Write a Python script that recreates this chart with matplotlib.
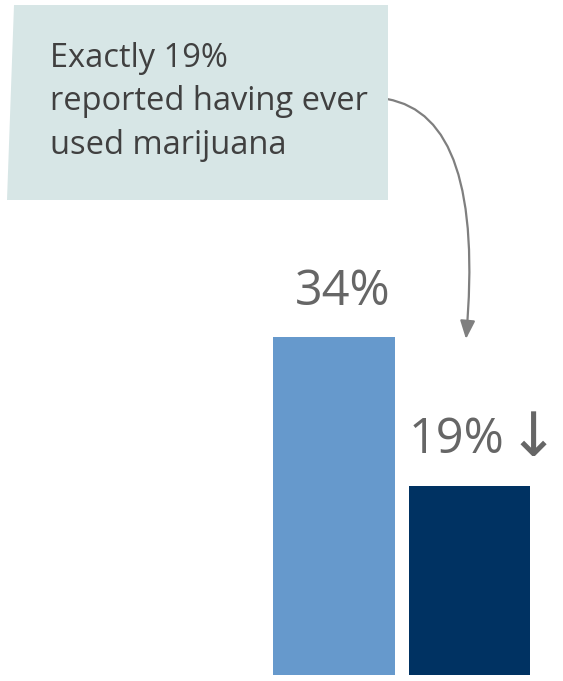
import matplotlib.pyplot as plt
from matplotlib.patches import Polygon

plt.rcParams['font.family'] = ['Open Sans', 'Noto Sans', 'DejaVu Sans']

groups = ['Before', 'After']
values = [34, 19]
labels = ['34%', '19%']
change = '\u2193'  # significant decrease marker on the second bar
colors = ['#6699cc', '#003262']
note = 'Exactly 19%\nreported having ever\nused marijuana'

W, H = 563, 681
fig = plt.figure(figsize=(W / 100, H / 100), dpi=100)
ax = fig.add_axes([0, 0, 1, 1])

# bar centres 0 and 1, ~135.5 px apart; baseline 6 px above bottom
ux = 135.5
uy = 9.94
ax.set_xlim(-334 / ux, (W - 334) / ux)
ax.set_ylim(-6 / uy, (H - 6) / uy)
ax.axis('off')

xs = range(len(values))
ax.bar(xs, values, width=0.9, color=colors)

ax.annotate(labels[0], (0, values[0]), xytext=(9, 32), textcoords='offset pixels',
            ha='center', va='baseline', fontsize=35, color='#666666')
ax.annotate(labels[1], (1 - 0.45, values[1]), xytext=(0, 33), textcoords='offset pixels',
            ha='left', va='baseline', fontsize=35, color='#666666')
ax.annotate(change, (1 + 0.45, values[1]), xytext=(28, 30), textcoords='offset pixels',
            ha='right', va='baseline', fontsize=44, family=['Noto Sans', 'DejaVu Sans'],
            color='#666666')

# callout box
box = Polygon([(14 / W, 1 - 5 / H), (388 / W, 1 - 5 / H), (388 / W, 1 - 200 / H),
               (7 / W, 1 - 200 / H)], closed=True, transform=fig.transFigure,
              facecolor='#d7e6e6', edgecolor='none')
fig.patches.append(box)
fig.text(50 / W, 1 - 42 / H, note, ha='left', va='top', fontsize=23.5,
         color='#404040', linespacing=1.42)

ax.annotate('', xy=(466 / W, 1 - 339 / H), xycoords='figure fraction',
            xytext=(387 / W, 1 - 99 / H), textcoords='figure fraction',
            arrowprops=dict(arrowstyle='-|>,head_length=1.1,head_width=0.45',
                            color='#7f7f7f', lw=1.6,
                            connectionstyle='angle3,angleA=-10,angleB=-95',
                            shrinkA=0, shrinkB=0))

fig.savefig('out.png', dpi=100)
